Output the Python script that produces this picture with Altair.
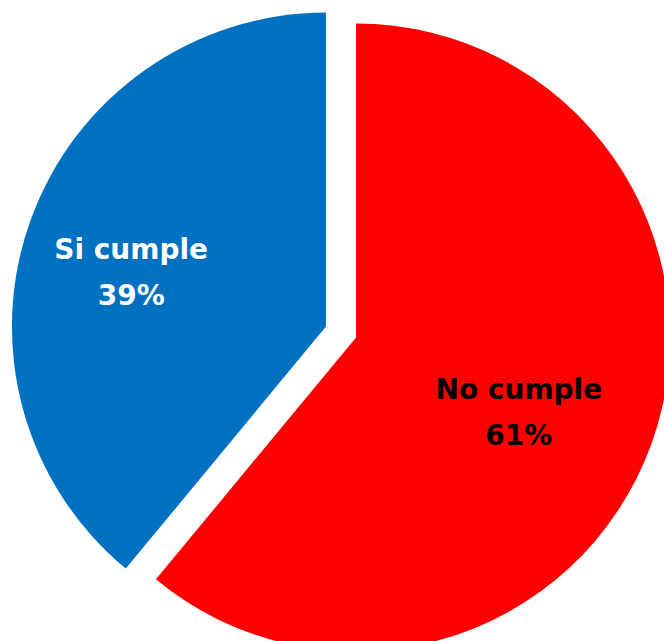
import math
import altair as alt
import pandas as pd

categories = ["No cumple", "Si cumple"]
values = [61, 39]
slice_colors = ["#FF0000", "#0070C0"]
label_colors = ["#000000", "#FFFFFF"]

CX, CY = 341, 332      # pie centre (px)
EXPLODE = 16           # explode distance (px)
R = 314                # pie radius (px)

total = sum(values)
rows = []
acc = 0
for cat, v, c, tc in zip(categories, values, slice_colors, label_colors):
    a0 = acc / total * 2 * math.pi
    acc += v
    a1 = acc / total * 2 * math.pi
    mid = (a0 + a1) / 2
    rows.append({
        "cat": cat,
        "value": v,
        "a0": a0,
        "a1": a1,
        "mid": mid,
        "cx": CX + EXPLODE * math.sin(mid),
        "cy": CY - EXPLODE * math.cos(mid),
        "color": c,
        "tcolor": tc,
        "label": f"{cat}\n{round(v / total * 100)}%",
    })
df = pd.DataFrame(rows)

base = alt.Chart(df).encode(
    x=alt.X("cx:Q", scale=None),
    y=alt.Y("cy:Q", scale=None),
)

arcs = base.mark_arc(radius=R).encode(
    theta=alt.Theta("a0:Q", scale=None, stack=None),
    theta2="a1:Q",
    color=alt.Color("color:N", scale=None),
)

labels = base.mark_text(
    radius=190, dx=-16, dy=-11, lineBreak="\n", lineHeight=46,
    font="DejaVu Sans", fontWeight="bold", fontSize=28,
    align="center", baseline="middle",
).encode(
    theta=alt.Theta("mid:Q", scale=None, stack=None),
    text="label:N",
    color=alt.Color("tcolor:N", scale=None),
)

chart = alt.layer(arcs, labels).properties(
    width=664, height=641,
    autosize=alt.AutoSizeParams(type="none"),
    padding=0,
).configure_view(stroke=None)

chart.save("out.html", embed_options={"renderer": "svg", "actions": False})
